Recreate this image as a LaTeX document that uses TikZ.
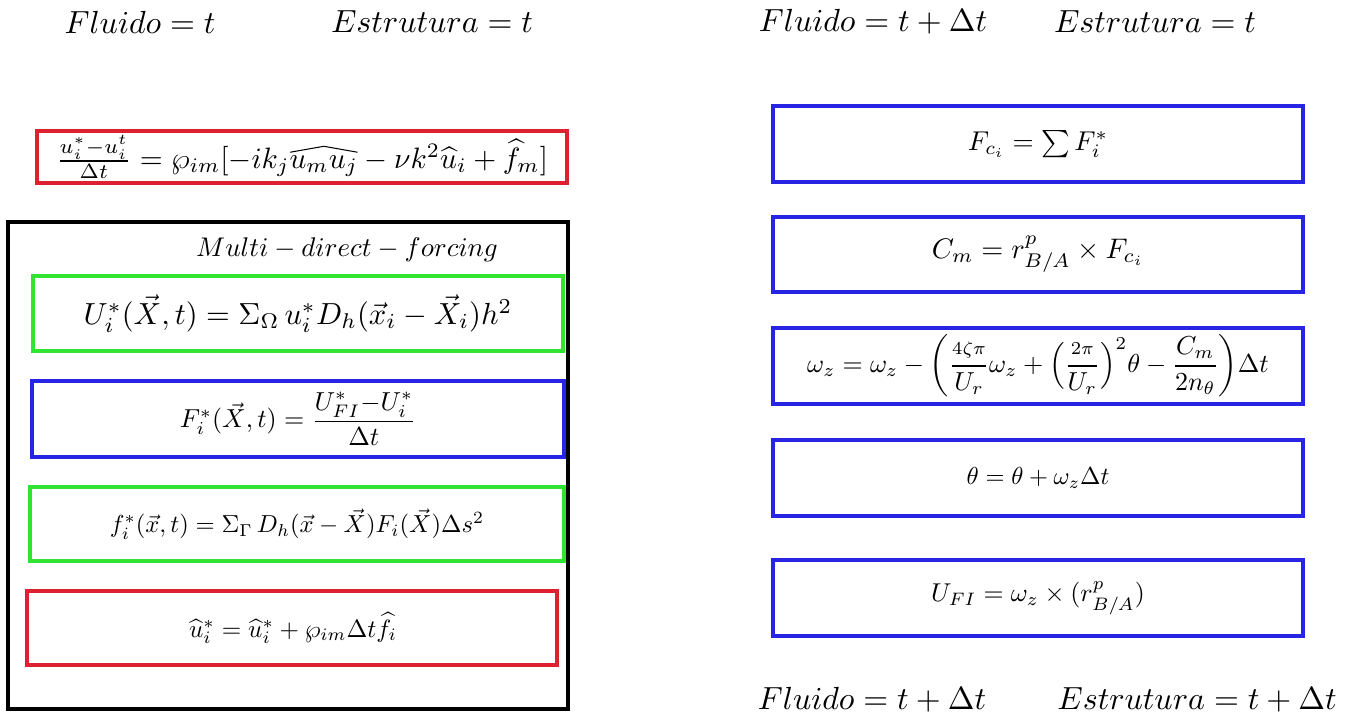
\documentclass[tikz,border=0pt]{standalone}
\usepackage{amsmath}
\definecolor{boxred}{RGB}{222,32,48}
\definecolor{boxgreen}{RGB}{50,228,50}
\definecolor{boxblue}{RGB}{40,36,228}
\newcommand{\longhat}[1]{\mathord{\tikz[baseline=(hx.base)]{\node[inner sep=0pt,outer sep=0pt] (hx) {$#1$};
  \draw[line width=0.35pt, line join=round, line cap=round] ([xshift=0.3pt,yshift=1.2pt]hx.north west) -- ([yshift=3.2pt]hx.north) -- ([xshift=-0.3pt,yshift=1.2pt]hx.north east);}}}
\tikzset{
  eqbox/.style={draw, rectangle, line width=3.5pt, minimum width=530pt},
  eqtext/.style={inner sep=0pt},
  hdr/.style={inner sep=0pt, scale=3.2},
}
\begin{document}
\begin{tikzpicture}[x=1pt,y=-1pt]
\useasboundingbox[fill=white] (0,0) rectangle (1361,724);
% headers
\node[hdr] (h1) at (140,22) {$Fluido = t$};
\node[hdr] (h2) at (432,22) {$Estrutura = t$};
\node[hdr] (h3) at (873,22) {$Fluido = t + \Delta t$};
\node[hdr] (h4) at (1155,22) {$Estrutura = t$};
\node[hdr] (h5) at (872,700) {$Fluido = t + \Delta t$};
\node[hdr] (h6) at (1197,700) {$Estrutura = t + \Delta t$};
% left column boxes
\node[eqbox, draw=boxred, minimum height=52pt] (r1) at (302,157) {};
\node[draw=black, rectangle, line width=3.5pt, minimum width=560pt, minimum height=487pt] (mdf) at (288,465.5) {};
\node[eqbox, draw=boxgreen, minimum height=75pt] (g1) at (298,313.5) {};
\node[eqbox, draw=boxblue, minimum width=532pt, minimum height=76pt] (b1) at (298,419) {};
\node[eqbox, draw=boxgreen, minimum width=534pt, minimum height=74pt] (g2) at (297,524) {};
\node[eqbox, draw=boxred, minimum height=74pt] (r2) at (292,628) {};
% left texts
\node[eqtext, scale=2.95] (r1t) at (r1) {$\frac{u_i^*-u_i^t}{\Delta t} = \wp_{im}[-ik_j\longhat{u_mu_j} - \nu k^2\widehat{u}_i + \widehat{f}_m]$};
\node[eqtext, scale=2.7] (mt) at (347,250) {$Multi - direct - forcing$};
\node[eqtext, scale=3.05] (g1t) at (g1) {$U_i^*(\vec{X},t) = \Sigma_\Omega\, u_i^* D_h(\vec{x}_i - \vec{X}_i)h^2$};
\node[eqtext, scale=2.6] (b1t) at (b1) {$F_i^*(\vec{X},t) = \dfrac{U_{FI}^*{-}U_i^*}{\Delta t}$};
\node[eqtext, scale=2.46] (g2t) at (g2) {$f_i^*(\vec{x},t) = \Sigma_\Gamma\, D_h(\vec{x} - \vec{X})F_i(\vec{X})\Delta s^2$};
\node[eqtext, scale=2.5] (r2t) at ([xshift=1pt]r2) {$\widehat{u}_i^* = \widehat{u}_i^* + \wp_{im}\Delta t\widehat{f}_i$};
% right column boxes
\node[eqbox, draw=boxblue, minimum height=76pt] (c1) at (1038,144) {};
\node[eqbox, draw=boxblue, minimum height=75pt] (c2) at (1038,254.5) {};
\node[eqbox, draw=boxblue, minimum height=76pt] (c3) at (1038,366) {};
\node[eqbox, draw=boxblue, minimum height=76pt] (c4) at (1038,478) {};
\node[eqbox, draw=boxblue, minimum height=76pt] (c5) at (1038,598) {};
% right texts
\node[eqtext, scale=2.72] (c1t) at (c1) {$F_{c_i} = \sum F_i^*$};
\node[eqtext, scale=2.83] (c2t) at (c2) {$C_m = r^p_{B/A}\times F_{c_i}$};
\node[eqtext, scale=2.6] (c3t) at (c3) {$\omega_z = \omega_z - \biggl(\dfrac{\scriptstyle 4\zeta\pi}{U_r}\omega_z + \Bigl(\dfrac{\scriptstyle 2\pi}{U_r}\Bigr)^2\theta - \dfrac{C_m}{2n_\theta}\biggr)\Delta t$};
\node[eqtext, scale=2.45] (c4t) at (c4) {$\theta = \theta + \omega_z\Delta t$};
\node[eqtext, scale=2.58] (c5t) at (c5) {$U_{FI} = \omega_z\times(r^p_{B/A})$};
\end{tikzpicture}
\end{document}
